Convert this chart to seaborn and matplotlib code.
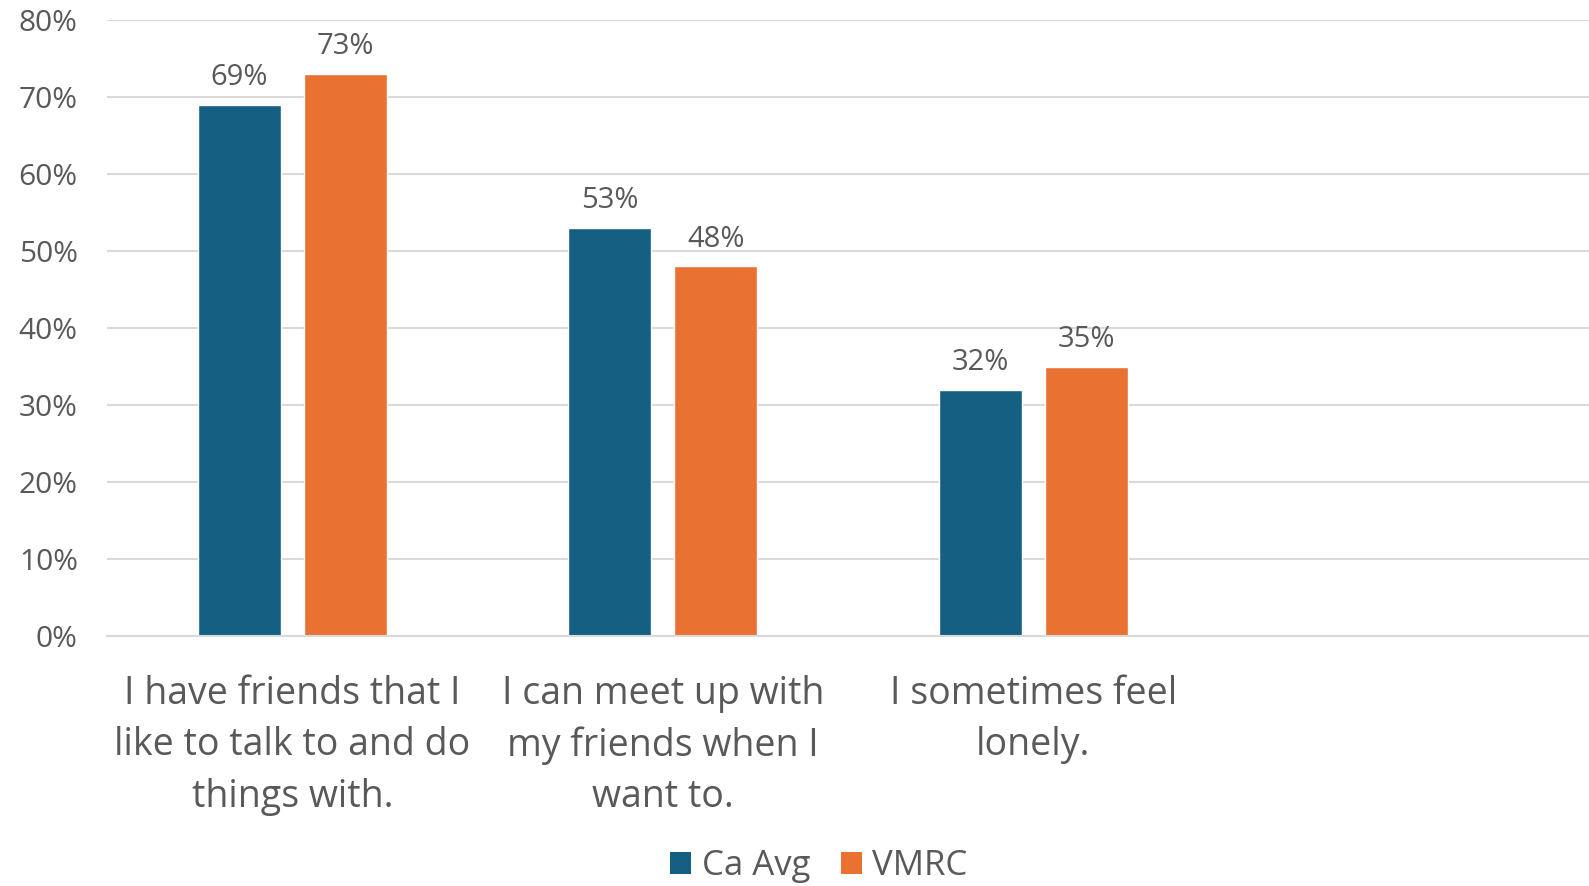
import matplotlib
matplotlib.use("Agg")
import matplotlib.pyplot as plt
from matplotlib.ticker import FuncFormatter, MultipleLocator
from matplotlib.patches import Patch
import seaborn as sns
import pandas as pd
import numpy as np

# Survey items (a blank fourth slot keeps the category spacing)
categories = [
    "I have friends that I\nlike to talk to and do\nthings with.",
    "I can meet up with\nmy friends when I\nwant to.",
    "I sometimes feel\nlonely.",
    " ",
]
series = ["Ca Avg", "VMRC"]
ca_avg = [69, 53, 32, np.nan]
vmrc = [73, 48, 35, np.nan]
colors = ["#156082", "#E97132"]

text_color = "#595959"
grid_color = "#D9D9D9"

df = pd.DataFrame({
    "item": categories * 2,
    "group": [series[0]] * len(categories) + [series[1]] * len(categories),
    "value": ca_avg + vmrc,
})

sns.set_theme(style="white")
plt.rcParams["font.family"] = ["Open Sans", "DejaVu Sans"]

fig = plt.figure(figsize=(15.89, 8.86), dpi=100)
ax = fig.add_axes([107 / 1589, 1 - 636 / 886, 1 - 107 / 1589, (636 - 20) / 886])

sns.barplot(data=df, x="item", y="value", hue="group", order=categories,
            hue_order=series, palette=colors, width=0.572, gap=0.217,
            saturation=1, legend=False, ax=ax, errorbar=None)

for container in ax.containers:
    ax.bar_label(container, labels=[f"{v:.0f}%" if np.isfinite(v) else "" for v in container.datavalues],
                 padding=9, fontsize=21, color=text_color)

ax.set_ylim(0, 80)
ax.set_xlim(-0.5, len(categories) - 0.5)
ax.yaxis.set_major_locator(MultipleLocator(10))
ax.yaxis.set_major_formatter(FuncFormatter(lambda v, _: f"{v:.0f}%"))
ax.grid(axis="y", color=grid_color, linewidth=1.5)
ax.set_axisbelow(True)
for side in ["top", "right", "left"]:
    ax.spines[side].set_visible(False)
ax.spines["bottom"].set_color(grid_color)
ax.spines["bottom"].set_linewidth(1.5)
ax.set_xlabel("")
ax.set_ylabel("")
ax.tick_params(axis="y", length=0, labelsize=21.5, labelcolor=text_color, pad=21)
ax.tick_params(axis="x", length=0, labelsize=27, labelcolor=text_color, pad=28)
for lbl in ax.get_xticklabels():
    lbl.set_multialignment("center")
    lbl.set_linespacing(1.46)

handles = [Patch(facecolor=c, edgecolor="none") for c in colors]
fig.legend(handles, series, loc="center", bbox_to_anchor=(819 / 1589, 1 - 866 / 886),
           ncol=2, frameon=False, fontsize=25, labelcolor=text_color,
           handlelength=0.6, handleheight=0.6, handletextpad=0.3, columnspacing=0.9)

fig.savefig("out.png", dpi=100)
